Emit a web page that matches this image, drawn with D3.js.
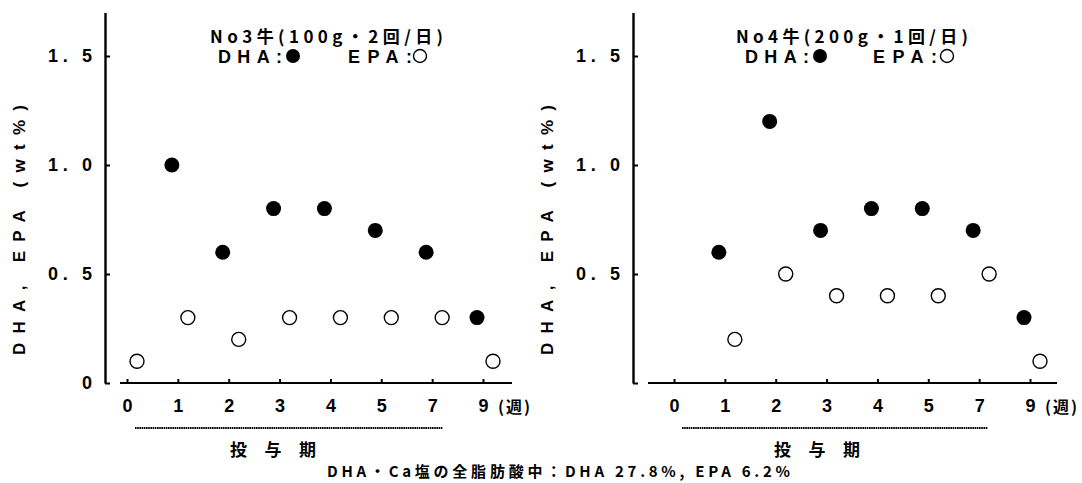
<!DOCTYPE html>
<html>
<head>
<meta charset="utf-8">
<script src="https://cdn.jsdelivr.net/npm/d3@7/dist/d3.min.js"></script>
<style>
  html, body { margin: 0; padding: 0; background: #fff; }
  svg { display: block; }
  text { fill: #000; font-family: "Liberation Sans", "Noto Sans CJK JP", sans-serif; font-weight: bold; }
  .jp { font-family: "Noto Sans CJK JP", sans-serif; }
</style>
</head>
<body>
<svg id="chart" width="1082" height="483"></svg>
<script>
// Sampling weeks (categorical, evenly spaced on the axis)
const weeks = ["0", "1", "2", "3", "4", "5", "7", "9"];

// Cow No.3 (100 g x 2/day)
const no3DHA = [null, 1.0, 0.6, 0.8, 0.8, 0.7, 0.6, 0.3];
const no3EPA = [0.1, 0.3, 0.2, 0.3, 0.3, 0.3, 0.3, 0.1];

// Cow No.4 (200 g x 1/day)
const no4DHA = [null, 0.6, 1.2, 0.7, 0.8, 0.8, 0.7, 0.3];
const no4EPA = [null, 0.2, 0.5, 0.4, 0.4, 0.4, 0.5, 0.1];

const yTickValues = [0, 0.5, 1.0, 1.5];
const yTickLabels = ["0", "0. 5", "1. 0", "1. 5"];

const svg = d3.select("#chart");

const panels = [
  {
    title: "No3牛(100g・2回/日)",
    dha: no3DHA, epa: no3EPA,
    axisX: 105, xFirst: 127, xLast: 483, lineL: 120, lineR: 512,
    titleX: 210, titleW: 233, legX: 218, dotX: 293, epaX: 348, ringX: 420,
    labelX: 18, showZero: true,
    dotL: 135, dotR: 443, periodX: 273
  },
  {
    title: "No4牛(200g・1回/日)",
    dha: no4DHA, epa: no4EPA,
    axisX: 633, xFirst: 674, xLast: 1030, lineL: 648, lineR: 1057,
    titleX: 736, titleW: 232, legX: 745, dotX: 820, epaX: 873, ringX: 947,
    labelX: 546, showZero: false,
    dotL: 682, dotR: 988, periodX: 817
  }
];

const y = d3.scaleLinear().domain([0, 1.7]).range([383, 12.4]);

panels.forEach(p => {
  const g = svg.append("g");
  const x = d3.scalePoint().domain(weeks).range([p.xFirst, p.xLast]);

  // Y axis: thick spine, short inward ticks
  const yAxis = d3.axisLeft(y)
    .tickValues(yTickValues)
    .tickSize(-5)
    .tickSizeOuter(0)
    .tickPadding(13)
    .tickFormat((d, i) => (i === 0 && !p.showZero) ? "" : yTickLabels[i]);
  const ya = g.append("g").attr("transform", `translate(${p.axisX},0)`).call(yAxis);
  ya.select(".domain").attr("stroke", "#000").attr("stroke-width", 2.4);
  ya.selectAll(".tick line").attr("stroke", "#000").attr("stroke-width", 2);
  ya.selectAll(".tick text")
    .attr("font-size", 18)
    .each(function (d, i) {
      if (yTickLabels[i].length > 1) {
        d3.select(this).attr("textLength", 44).attr("lengthAdjust", "spacing");
      }
    });

  // X axis: separate baseline spanning a bit past the outer weeks
  g.append("line")
    .attr("x1", p.lineL).attr("x2", p.lineR)
    .attr("y1", y(0)).attr("y2", y(0))
    .attr("stroke", "#000").attr("stroke-width", 2.2);
  const xAxis = d3.axisBottom(x).tickSize(-4).tickSizeOuter(0).tickPadding(16);
  const xa = g.append("g").attr("transform", `translate(0,${y(0)})`).call(xAxis);
  xa.select(".domain").remove();
  xa.selectAll(".tick line").attr("stroke", "#000").attr("stroke-width", 2);
  xa.selectAll(".tick text").attr("font-size", 18);

  // Week unit
  g.append("text").attr("class", "jp")
    .attr("x", x("9") + 15).attr("y", 413)
    .attr("font-size", 16)
    .attr("textLength", 32).attr("lengthAdjust", "spacing")
    .text("(週)");

  // Y axis title
  g.append("text")
    .attr("transform", `translate(${p.labelX + 7},230) rotate(-90)`)
    .attr("text-anchor", "middle")
    .attr("font-size", 17)
    .attr("textLength", 250).attr("lengthAdjust", "spacing")
    .text("DHA, EPA (wt%)");

  // Dosing period bar
  g.append("line")
    .attr("x1", p.dotL).attr("x2", p.dotR)
    .attr("y1", 428).attr("y2", 428)
    .attr("stroke", "#000").attr("stroke-width", 2)
    .attr("stroke-dasharray", "1.6,0.6");
  g.append("text").attr("class", "jp")
    .attr("x", p.periodX).attr("y", 456)
    .attr("text-anchor", "middle").attr("font-size", 17)
    .attr("textLength", 86).attr("lengthAdjust", "spacing")
    .text("投与期");

  // Panel title and legend
  g.append("text").attr("class", "jp")
    .attr("x", p.titleX).attr("y", 43)
    .attr("font-size", 17)
    .attr("textLength", p.titleW).attr("lengthAdjust", "spacing")
    .text(p.title);
  g.append("text")
    .attr("x", p.legX).attr("y", 63)
    .attr("font-size", 18)
    .attr("textLength", 64).attr("lengthAdjust", "spacing")
    .text("DHA:");
  g.append("circle").attr("cx", p.dotX).attr("cy", 56).attr("r", 7).attr("fill", "#000");
  g.append("text")
    .attr("x", p.epaX).attr("y", 63)
    .attr("font-size", 18)
    .attr("textLength", 64).attr("lengthAdjust", "spacing")
    .text("EPA:");
  g.append("circle").attr("cx", p.ringX).attr("cy", 56).attr("r", 6.5)
    .attr("fill", "#fff").attr("stroke", "#000").attr("stroke-width", 1.4);

  // DHA: filled markers just left of each week tick
  g.selectAll("circle.dha")
    .data(weeks.map((w, i) => ({ w, v: p.dha[i] })).filter(d => d.v !== null))
    .join("circle").attr("class", "dha")
    .attr("cx", d => x(d.w) - 6).attr("cy", d => y(d.v))
    .attr("r", 7.5).attr("fill", "#000");

  // EPA: open markers just right of each week tick
  g.selectAll("circle.epa")
    .data(weeks.map((w, i) => ({ w, v: p.epa[i] })).filter(d => d.v !== null))
    .join("circle").attr("class", "epa")
    .attr("cx", d => x(d.w) + 10).attr("cy", d => y(d.v))
    .attr("r", 7).attr("fill", "#fff").attr("stroke", "#000").attr("stroke-width", 1.4);
});

// Footnote: composition of the supplement
svg.append("text").attr("class", "jp")
  .attr("x", 327).attr("y", 477)
  .attr("font-size", 15)
  .attr("textLength", 463).attr("lengthAdjust", "spacing")
  .text("DHA・Ca塩の全脂肪酸中：DHA 27.8%, EPA 6.2%");
</script>
</body>
</html>
